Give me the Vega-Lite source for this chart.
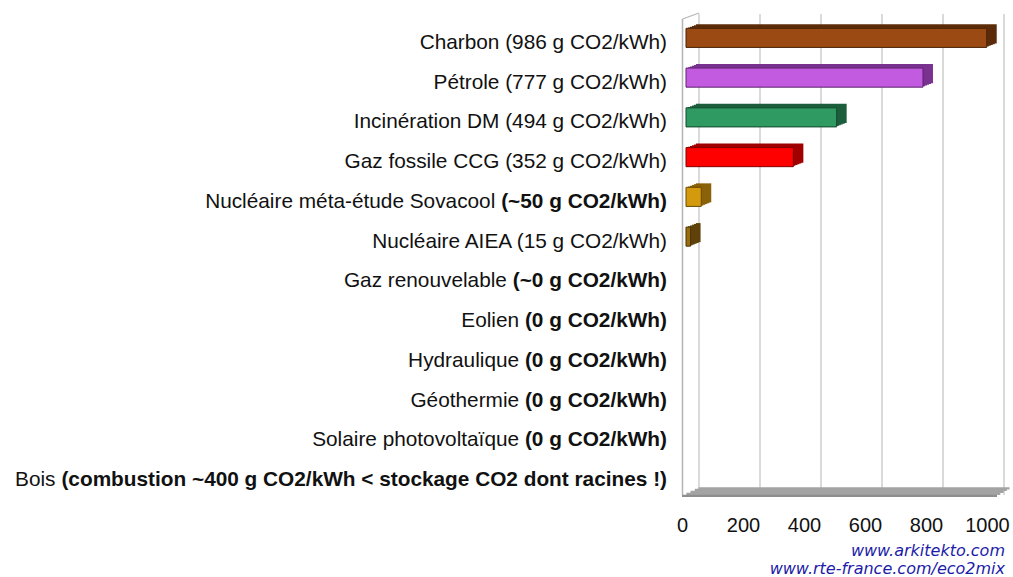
{
  "$schema": "https://vega.github.io/schema/vega-lite/v6.json",
  "autosize": {"type": "none"},
  "width": 305,
  "height": 477,
  "padding": {"left": 686, "top": 18, "right": 22, "bottom": 82},
  "background": "white",
  "datasets": {
    "rows": [
      {"source": "Charbon", "normal": "Charbon (986 g CO2/kWh)", "bold": "", "value": 986},
      {"source": "Pétrole", "normal": "Pétrole (777 g CO2/kWh)", "bold": "", "value": 777},
      {"source": "Incinération DM", "normal": "Incinération DM (494 g CO2/kWh)", "bold": "", "value": 494},
      {"source": "Gaz fossile CCG", "normal": "Gaz fossile CCG (352 g CO2/kWh)", "bold": "", "value": 352},
      {"source": "Nucléaire méta-étude Sovacool", "normal": "Nucléaire méta-étude Sovacool", "bold": "(~50 g CO2/kWh)", "value": 50},
      {"source": "Nucléaire AIEA", "normal": "Nucléaire AIEA (15 g CO2/kWh)", "bold": "", "value": 15},
      {"source": "Gaz renouvelable", "normal": "Gaz renouvelable", "bold": "(~0 g CO2/kWh)", "value": 0},
      {"source": "Eolien", "normal": "Eolien", "bold": "(0 g CO2/kWh)", "value": 0},
      {"source": "Hydraulique", "normal": "Hydraulique", "bold": "(0 g CO2/kWh)", "value": 0},
      {"source": "Géothermie", "normal": "Géothermie", "bold": "(0 g CO2/kWh)", "value": 0},
      {"source": "Solaire photovoltaïque", "normal": "Solaire photovoltaïque", "bold": "(0 g CO2/kWh)", "value": 0},
      {"source": "Bois", "normal": "Bois", "bold": "(combustion ~400 g CO2/kWh < stockage CO2 dont racines !)", "value": null}
    ],
    "grid": [{"g": 0}, {"g": 200}, {"g": 400}, {"g": 600}, {"g": 800}, {"g": 1000}]
  },
  "data": {"name": "rows"},
  "title": {
    "text": "www.arkitekto.com",
    "subtitle": "www.rte-france.com/eco2mix",
    "orient": "bottom",
    "anchor": "end",
    "frame": "group",
    "dx": 14,
    "offset": 8,
    "font": "DejaVu Sans",
    "fontSize": 16,
    "fontStyle": "italic",
    "fontWeight": "normal",
    "color": "#1c1ca8",
    "subtitleFont": "DejaVu Sans",
    "subtitleFontSize": 16,
    "subtitleFontStyle": "italic",
    "subtitleColor": "#1c1ca8",
    "subtitlePadding": 2
  },
  "layer": [
    {
      "data": {"name": "grid"},
      "mark": {"type": "rule", "color": "#b5b5b5", "strokeWidth": 1, "xOffset": 13, "yOffset": -4},
      "encoding": {
        "x": {
          "field": "g", "type": "quantitative", "title": null,
          "scale": {"domain": [0, 1000], "nice": false},
          "axis": {
            "values": [0, 200, 400, 600, 800, 1000],
            "format": "d",
            "grid": false,
            "domain": false,
            "ticks": false,
            "tickSize": 0,
            "labelFont": "Liberation Sans",
            "labelFontSize": 20,
            "labelColor": "#111111",
            "labelOffset": -4,
            "labelPadding": 20,
            "labelFlush": false,
            "labelOverlap": false
          }
        }
      }
    },
    {
      "data": {"values": [{"w": 0}]},
      "mark": {"type": "rule", "color": "#b5b5b5", "strokeWidth": 1.5, "xOffset": -3.5, "yOffset": 1},
      "encoding": {"x": {"field": "w", "type": "quantitative", "title": null}}
    },
    {
      "data": {"values": [{"w": 0, "r": "Charbon"}]},
      "mark": {"type": "rule", "color": "#b5b5b5", "strokeWidth": 1.2, "xOffset": -3.5, "x2Offset": 13, "yOffset": -18.9, "y2Offset": -24.9},
      "encoding": {
        "x": {"field": "w", "type": "quantitative", "title": null},
        "x2": {"field": "w"},
        "y": {"field": "r", "type": "nominal"},
        "y2": {"field": "r"}
      }
    },
    {
      "data": {"values": [{"a": 0, "b": 1000, "r": "Bois"}]},
      "mark": {"type": "rule", "color": "#a3a3a3", "strokeWidth": 2.2, "yOffset": 13.2, "xOffset": 12.5, "x2Offset": 18.5},
      "encoding": {"x": {"field": "a", "type": "quantitative", "title": null}, "x2": {"field": "b"}, "y": {"field": "r", "type": "nominal"}}
    },
    {
      "data": {"values": [{"a": 0, "b": 1000, "r": "Bois"}]},
      "mark": {"type": "rule", "color": "#a3a3a3", "strokeWidth": 2.2, "yOffset": 14.8, "xOffset": 8.8, "x2Offset": 15.8},
      "encoding": {"x": {"field": "a", "type": "quantitative", "title": null}, "x2": {"field": "b"}, "y": {"field": "r", "type": "nominal"}}
    },
    {
      "data": {"values": [{"a": 0, "b": 1000, "r": "Bois"}]},
      "mark": {"type": "rule", "color": "#a3a3a3", "strokeWidth": 2.2, "yOffset": 16.8, "xOffset": 4.5, "x2Offset": 12.5},
      "encoding": {"x": {"field": "a", "type": "quantitative", "title": null}, "x2": {"field": "b"}, "y": {"field": "r", "type": "nominal"}}
    },
    {
      "data": {"values": [{"a": 0, "b": 1000, "r": "Bois"}]},
      "mark": {"type": "rule", "color": "#a3a3a3", "strokeWidth": 2.2, "yOffset": 18.8, "xOffset": 0.3, "x2Offset": 9.3},
      "encoding": {"x": {"field": "a", "type": "quantitative", "title": null}, "x2": {"field": "b"}, "y": {"field": "r", "type": "nominal"}}
    },
    {
      "data": {"values": [{"a": 0, "b": 1000, "r": "Bois"}]},
      "mark": {"type": "rule", "color": "#8e8e8e", "strokeWidth": 2.2, "yOffset": 20.8, "xOffset": -4, "x2Offset": 6},
      "encoding": {"x": {"field": "a", "type": "quantitative", "title": null}, "x2": {"field": "b"}, "y": {"field": "r", "type": "nominal"}}
    },
    {
      "transform": [{"filter": "datum.value > 0"}],
      "mark": {"type": "bar", "xOffset": 10, "yOffset": -4},
      "encoding": {
        "y": {"field": "source", "type": "nominal", "sort": null, "scale": {"domain": ["Charbon", "Pétrole", "Incinération DM", "Gaz fossile CCG", "Nucléaire méta-étude Sovacool", "Nucléaire AIEA", "Gaz renouvelable", "Eolien", "Hydraulique", "Géothermie", "Solaire photovoltaïque", "Bois"]}},
        "x": {"field": "value", "type": "quantitative", "title": null},
        "color": {"field": "source", "type": "nominal", "legend": null, "scale": {"domain": ["Charbon", "Pétrole", "Incinération DM", "Gaz fossile CCG", "Nucléaire méta-étude Sovacool", "Nucléaire AIEA"], "range": ["#5c2c0a", "#7a3290", "#1d5e3c", "#a00000", "#8a6208", "#5e420a"]}}
      }
    },
    {
      "transform": [{"filter": "datum.value > 0"}],
      "mark": {"type": "bar", "xOffset": 8, "yOffset": -3.2},
      "encoding": {
        "y": {"field": "source", "type": "nominal", "sort": null},
        "x": {"field": "value", "type": "quantitative", "title": null},
        "color": {"field": "source", "type": "nominal", "legend": null}
      }
    },
    {
      "transform": [{"filter": "datum.value > 0"}],
      "mark": {"type": "bar", "xOffset": 6, "yOffset": -2.4},
      "encoding": {
        "y": {"field": "source", "type": "nominal", "sort": null},
        "x": {"field": "value", "type": "quantitative", "title": null},
        "color": {"field": "source", "type": "nominal", "legend": null}
      }
    },
    {
      "transform": [{"filter": "datum.value > 0"}],
      "mark": {"type": "bar", "xOffset": 4, "yOffset": -1.6},
      "encoding": {
        "y": {"field": "source", "type": "nominal", "sort": null},
        "x": {"field": "value", "type": "quantitative", "title": null},
        "color": {"field": "source", "type": "nominal", "legend": null}
      }
    },
    {
      "transform": [{"filter": "datum.value > 0"}],
      "mark": {"type": "bar", "xOffset": 2, "yOffset": -0.8},
      "encoding": {
        "y": {"field": "source", "type": "nominal", "sort": null},
        "x": {"field": "value", "type": "quantitative", "title": null},
        "color": {"field": "source", "type": "nominal", "legend": null}
      }
    },
    {
      "transform": [{"filter": "datum.value > 0"}],
      "mark": {"type": "bar", "strokeWidth": 1},
      "encoding": {
        "y": {"field": "source", "type": "nominal", "sort": null},
        "x": {"field": "value", "type": "quantitative", "title": null},
        "fill": {"field": "source", "type": "nominal", "legend": null, "scale": {"domain": ["Charbon", "Pétrole", "Incinération DM", "Gaz fossile CCG", "Nucléaire méta-étude Sovacool", "Nucléaire AIEA"], "range": ["#9a4a12", "#c35be0", "#2f9a62", "#ff0000", "#d49a0e", "#9a6c0c"]}},
        "stroke": {"field": "source", "type": "nominal", "legend": null, "scale": {"domain": ["Charbon", "Pétrole", "Incinération DM", "Gaz fossile CCG", "Nucléaire méta-étude Sovacool", "Nucléaire AIEA"], "range": ["#4a2308", "#5e2470", "#15482e", "#800000", "#6a4a06", "#4a3408"]}}
      }
    },
    {
      "transform": [{"filter": "datum.bold == ''"}],
      "mark": {"type": "text", "align": "right", "baseline": "middle", "dx": -19, "dy": 5, "font": "Liberation Sans", "fontSize": 20.8, "color": "#111111"},
      "encoding": {
        "y": {"field": "source", "type": "nominal", "sort": null},
        "x": {"datum": 0, "type": "quantitative", "title": null},
        "text": {"field": "normal"}
      }
    },
    {
      "transform": [{"filter": "datum.bold == '(~50 g CO2/kWh)'"}],
      "mark": {"type": "text", "align": "right", "baseline": "middle", "dx": -190.7, "dy": 5, "font": "Liberation Sans", "fontSize": 20.8, "color": "#111111"},
      "encoding": {
        "y": {"field": "source", "type": "nominal", "sort": null},
        "x": {"datum": 0, "type": "quantitative", "title": null},
        "text": {"field": "normal"}
      }
    },
    {
      "transform": [{"filter": "datum.bold == '(~0 g CO2/kWh)'"}],
      "mark": {"type": "text", "align": "right", "baseline": "middle", "dx": -179.1, "dy": 5, "font": "Liberation Sans", "fontSize": 20.8, "color": "#111111"},
      "encoding": {
        "y": {"field": "source", "type": "nominal", "sort": null},
        "x": {"datum": 0, "type": "quantitative", "title": null},
        "text": {"field": "normal"}
      }
    },
    {
      "transform": [{"filter": "datum.bold == '(0 g CO2/kWh)'"}],
      "mark": {"type": "text", "align": "right", "baseline": "middle", "dx": -166.9, "dy": 5, "font": "Liberation Sans", "fontSize": 20.8, "color": "#111111"},
      "encoding": {
        "y": {"field": "source", "type": "nominal", "sort": null},
        "x": {"datum": 0, "type": "quantitative", "title": null},
        "text": {"field": "normal"}
      }
    },
    {
      "transform": [{"filter": "indexof(datum.bold, '(combustion') == 0"}],
      "mark": {"type": "text", "align": "right", "baseline": "middle", "dx": -630.5, "dy": 5, "font": "Liberation Sans", "fontSize": 20.8, "color": "#111111"},
      "encoding": {
        "y": {"field": "source", "type": "nominal", "sort": null},
        "x": {"datum": 0, "type": "quantitative", "title": null},
        "text": {"field": "normal"}
      }
    },
    {
      "transform": [{"filter": "datum.bold != ''"}],
      "mark": {"type": "text", "align": "right", "baseline": "middle", "dx": -19, "dy": 5, "font": "Liberation Sans", "fontSize": 20.8, "fontWeight": "bold", "color": "#111111"},
      "encoding": {
        "y": {"field": "source", "type": "nominal", "sort": null},
        "x": {"datum": 0, "type": "quantitative", "title": null},
        "text": {"field": "bold"}
      }
    }
  ],
  "resolve": {"scale": {"x": "shared", "y": "shared"}},
  "config": {
    "view": {"stroke": null},
    "scale": {"bandPaddingInner": 0.52, "bandPaddingOuter": 0.26},
    "axisY": {"disable": true}
  }
}
